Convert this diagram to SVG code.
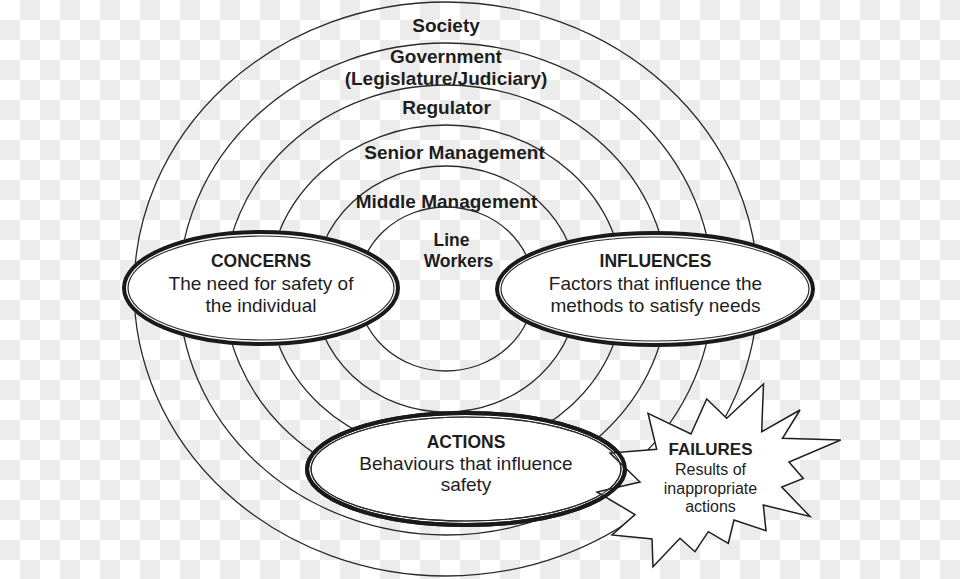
<svg xmlns="http://www.w3.org/2000/svg" xmlns:xlink="http://www.w3.org/1999/xlink" width="960" height="579" viewBox="0 0 960 579">
<defs>
<pattern id="checker" width="40" height="40" patternUnits="userSpaceOnUse">
<rect width="40" height="40" fill="#ffffff"/>
<rect x="20" y="0" width="20" height="20" fill="#ececec"/>
<rect x="0" y="20" width="20" height="20" fill="#ececec"/>
</pattern>
<style>
.ring{fill:none;stroke:#2a2a2a;stroke-width:1.3}
.lbl{font-family:"Liberation Sans",Arial,sans-serif;font-weight:bold;font-size:19px;fill:#1e1e1e;text-anchor:middle}
.lbl2{font-family:"Liberation Sans",Arial,sans-serif;font-weight:bold;font-size:17.5px;fill:#1e1e1e;text-anchor:middle}
.title{font-family:"Liberation Sans",Arial,sans-serif;font-weight:bold;font-size:17.5px;fill:#1e1e1e;text-anchor:middle}
.body{font-family:"Liberation Sans",Arial,sans-serif;font-size:19px;fill:#1e1e1e;text-anchor:middle}
.ftitle{font-family:"Liberation Sans",Arial,sans-serif;font-weight:bold;font-size:17px;fill:#1e1e1e;text-anchor:middle}
.fbody{font-family:"Liberation Sans",Arial,sans-serif;font-size:16px;fill:#1e1e1e;text-anchor:middle}
.nfill{fill:#ffffff;stroke:none}
.nout{fill:none;stroke:#1a1a1a;stroke-width:4}
.nin{fill:none;stroke:#2a2a2a;stroke-width:1.2}
.star{fill:#ffffff;stroke:#1e1e1e;stroke-width:1.5;stroke-linejoin:miter}
</style>
</defs>
<rect width="960" height="579" fill="url(#checker)"/>

<g id="society">
<ellipse class="ring" cx="446" cy="289" rx="312" ry="287"/>
<text class="lbl" x="446" y="32">Society</text>
</g>
<g id="government">
<ellipse class="ring" cx="446" cy="289" rx="267" ry="246"/>
<text class="lbl" x="446" y="63">Government</text>
<text class="lbl" x="446" y="85">(Legislature/Judiciary)</text>
</g>
<g id="regulator">
<ellipse class="ring" cx="446" cy="289" rx="222" ry="204"/>
<text class="lbl" x="446.5" y="113.5">Regulator</text>
</g>
<g id="senior-management">
<ellipse class="ring" cx="446" cy="289" rx="178" ry="164"/>
<text class="lbl" x="454.5" y="158.5">Senior Management</text>
</g>
<g id="middle-management">
<ellipse class="ring" cx="446" cy="289" rx="132" ry="123"/>
<text class="lbl" x="446.5" y="207.5">Middle Management</text>
</g>
<g id="line-workers">
<ellipse class="ring" cx="446" cy="289" rx="88" ry="82"/>
<text class="lbl2" x="451.5" y="246">Line</text>
<text class="lbl2" x="458.5" y="267">Workers</text>
</g>

<g id="connectors"/>

<g id="concerns">
<ellipse class="nfill" cx="261" cy="288" rx="139" ry="58"/>
<ellipse class="nout" cx="261" cy="288" rx="137" ry="56"/>
<ellipse class="nin" cx="261" cy="288" rx="133" ry="52"/>
<text class="title" x="261" y="266.5">CONCERNS</text>
<text class="body" x="261" y="289.5">The need for safety of</text>
<text class="body" x="261" y="311.5">the individual</text>
</g>

<g id="influences">
<ellipse class="nfill" cx="655" cy="289" rx="160" ry="58"/>
<ellipse class="nout" cx="655" cy="289" rx="158" ry="56"/>
<ellipse class="nin" cx="655" cy="289" rx="154" ry="52"/>
<text class="title" x="655.5" y="266.5">INFLUENCES</text>
<text class="body" x="655.5" y="289.5">Factors that influence the</text>
<text class="body" x="655.5" y="311.5">methods to satisfy needs</text>
</g>

<g id="actions">
<ellipse class="nfill" cx="466" cy="469" rx="161" ry="58"/>
<g id="actions-border">
<ellipse class="nout" cx="466" cy="469" rx="159" ry="56"/>
<ellipse class="nin" cx="466" cy="469" rx="155" ry="52"/>
</g>
<text class="title" x="466" y="447.5">ACTIONS</text>
<text class="body" x="466" y="470">Behaviours that influence</text>
<text class="body" x="466" y="491">safety</text>
</g>

<g id="failures">
<polygon class="star" points="763.5,384 761.7,431.7 800,410 782.5,438.3 840.7,440 789,462 803.3,478.5 781.7,487 810,516.5 763.3,505 766,530.7 734,520 728.3,543.3 708.3,531.7 695,551.7 680,538.3 653,566.7 652,539 612,535 635,514.5 597,492 640,482 610,453 656.7,449.3 648,413.3 691,434 706.7,399 726.7,418.3"/>
<use xlink:href="#actions-border" href="#actions-border"/>
<text class="ftitle" x="710.5" y="455">FAILURES</text>
<text class="fbody" x="710.5" y="475">Results of</text>
<text class="fbody" x="710.5" y="493.5">inappropriate</text>
<text class="fbody" x="710.5" y="512">actions</text>
</g>
</svg>
